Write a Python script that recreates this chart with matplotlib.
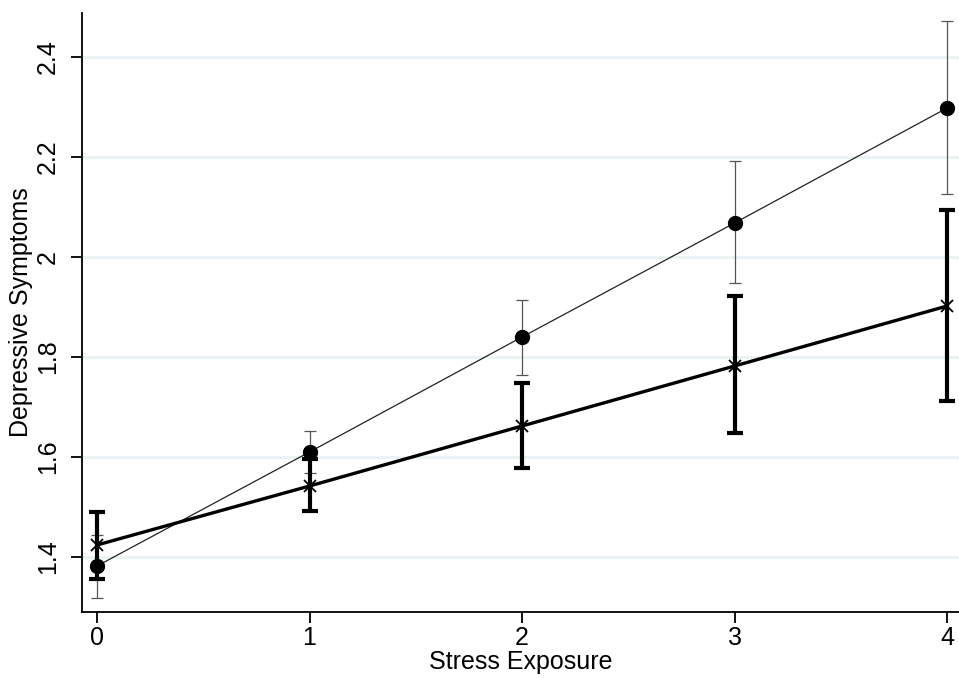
import matplotlib
matplotlib.use("Agg")
import matplotlib.pyplot as plt

plt.rcParams['font.family'] = ['Liberation Sans', 'DejaVu Sans']

stress = [0, 1, 2, 3, 4]

# circle series (thin line)
thin_mean = [1.382, 1.610, 1.840, 2.068, 2.298]
thin_lo = [1.318, 1.568, 1.764, 1.948, 2.126]
thin_hi = [1.444, 1.652, 1.914, 2.192, 2.472]

# cross series (thick line)
thick_mean = [1.424, 1.542, 1.662, 1.782, 1.902]
thick_lo = [1.356, 1.492, 1.578, 1.648, 1.712]
thick_hi = [1.490, 1.596, 1.748, 1.922, 2.094]

yticks = [1.4, 1.6, 1.8, 2.0, 2.2, 2.4]
ytick_labels = ["1.4", "1.6", "1.8", "2", "2.2", "2.4"]

fig = plt.figure(figsize=(9.59, 6.78), dpi=100)
ax = fig.add_axes([82 / 959, 1 - 612 / 678, 1 - 82 / 959, (612 - 13) / 678])

for y in yticks:
    ax.axhline(y, color="#eaf2f3", lw=2, zorder=0)

thin_err = [[m - l for m, l in zip(thin_mean, thin_lo)],
            [h - m for m, h in zip(thin_mean, thin_hi)]]
thick_err = [[m - l for m, l in zip(thick_mean, thick_lo)],
             [h - m for m, h in zip(thick_mean, thick_hi)]]

ax.errorbar(stress, thin_mean, yerr=thin_err, fmt="none", ecolor="#555555",
            elinewidth=0.9, capsize=4.5, capthick=0.9, zorder=2)
ax.plot(stress, thin_mean, color="#222222", lw=0.9, marker="o",
        markersize=10, markerfacecolor="black", markeredgecolor="black", zorder=3)

ax.errorbar(stress, thick_mean, yerr=thick_err, fmt="none", ecolor="black",
            elinewidth=3, capsize=6, capthick=3, zorder=4)
ax.plot(stress, thick_mean, color="black", lw=2.4, marker="x",
        markersize=8, markeredgewidth=1.3, zorder=5)

ax.set_xlim(-0.0706, 4.056)
ax.set_ylim(1.29, 2.488)
ax.set_xticks(stress)
ax.set_yticks(yticks)
ax.set_yticklabels(ytick_labels, rotation=90, va="center")
ax.tick_params(axis="both", labelsize=18, length=8, width=1.3, color="black")
ax.tick_params(axis="y", pad=8)
ax.tick_params(axis="x", pad=2)
ax.set_xlabel("Stress Exposure", fontsize=18, labelpad=0)
ax.set_ylabel("Depressive Symptoms", fontsize=18, labelpad=2)

for s in ["top", "right"]:
    ax.spines[s].set_visible(False)
for s in ["left", "bottom"]:
    ax.spines[s].set_linewidth(1.3)

fig.savefig("out.png", dpi=100)
